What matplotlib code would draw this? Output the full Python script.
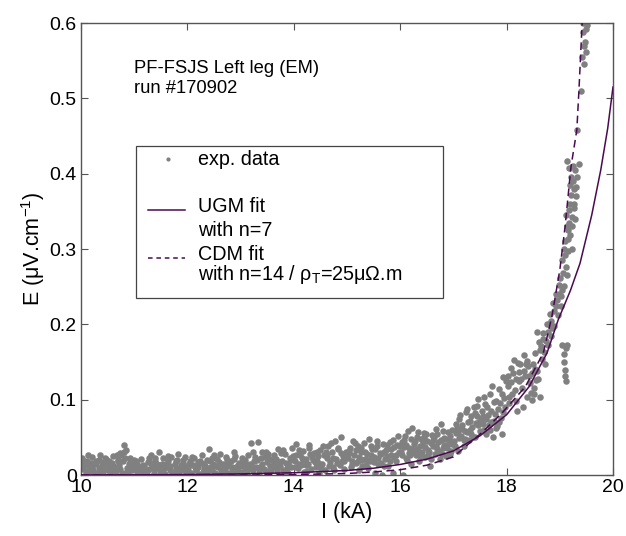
import matplotlib
matplotlib.use("Agg")
import matplotlib.pyplot as plt
from matplotlib.lines import Line2D
from matplotlib.patches import Rectangle

plt.rcParams['font.family'] = ['Liberation Sans', 'DejaVu Sans']
plt.rcParams['mathtext.fontset'] = 'custom'
plt.rcParams['mathtext.rm'] = 'Liberation Sans'
plt.rcParams['mathtext.it'] = 'Liberation Sans:italic'

exp_I = [
    10.02, 10.04, 10.07, 10.09, 10.12, 10.15, 10.17, 10.2, 10.23, 10.26, 10.28, 10.31, 10.34, 10.36, 10.39, 10.42, 10.44, 10.47, 10.5,
    10.52, 10.55, 10.58, 10.6, 10.63, 10.66, 10.69, 10.71, 10.74, 10.77, 10.79, 10.81, 10.84, 10.87, 10.9, 10.92, 10.95, 10.98,
    10.03, 10.11, 10.19, 10.25, 10.33, 10.41, 10.49, 10.56, 10.62, 10.7, 10.76, 10.83, 10.88, 10.96,
    10.06, 10.13, 10.21, 10.29, 10.37, 10.46, 10.53, 10.61, 10.68, 10.73, 10.8, 10.86, 10.93, 10.99,
    11.02, 11.05, 11.08, 11.1, 11.13, 11.16, 11.19, 11.22, 11.25, 11.28, 11.31, 11.34, 11.37, 11.4, 11.43, 11.46, 11.49,
    11.52, 11.55, 11.58, 11.61, 11.64, 11.67, 11.7, 11.73, 11.76, 11.79, 11.82, 11.85, 11.88, 11.91, 11.94, 11.97,
    11.04, 11.12, 11.2, 11.27, 11.35, 11.42, 11.5, 11.57, 11.63, 11.71, 11.78, 11.84, 11.92, 11.98,
    11.03, 11.09, 11.17, 11.24, 11.32, 11.39, 11.47, 11.54, 11.6, 11.68, 11.75, 11.81, 11.89, 11.95,
    12.01, 12.04, 12.07, 12.1, 12.13, 12.16, 12.19, 12.22, 12.25, 12.28, 12.31, 12.34, 12.37, 12.4, 12.43, 12.46, 12.49,
    12.52, 12.55, 12.58, 12.61, 12.64, 12.67, 12.7, 12.73, 12.76, 12.79, 12.82, 12.85, 12.88, 12.91, 12.94, 12.97,
    12.05, 12.14, 12.2, 12.29, 12.36, 12.45, 12.5, 12.59, 12.66, 12.74, 12.8, 12.87, 12.95,
    12.03, 12.09, 12.17, 12.24, 12.32, 12.39, 12.47, 12.54, 12.6, 12.68, 12.75, 12.83, 12.9, 12.96,
    13.02, 13.05, 13.08, 13.11, 13.14, 13.17, 13.2, 13.23, 13.26, 13.29, 13.32, 13.35, 13.38, 13.41, 13.44, 13.47, 13.5,
    13.53, 13.56, 13.59, 13.62, 13.65, 13.68, 13.71, 13.74, 13.77, 13.8, 13.83, 13.86, 13.89, 13.92, 13.95, 13.98,
    13.04, 13.12, 13.19, 13.27, 13.34, 13.4, 13.48, 13.55, 13.61, 13.69, 13.76, 13.84, 13.9, 13.97,
    13.03, 13.09, 13.16, 13.24, 13.31, 13.37, 13.45, 13.52, 13.58, 13.66, 13.73, 13.79, 13.87, 13.94,
    14.02, 14.05, 14.08, 14.11, 14.14, 14.17, 14.2, 14.23, 14.26, 14.29, 14.32, 14.35, 14.38, 14.41, 14.44, 14.47, 14.5,
    14.53, 14.56, 14.59, 14.62, 14.65, 14.68, 14.71, 14.74, 14.77, 14.8, 14.83, 14.86, 14.89, 14.92, 14.95, 14.98,
    14.04, 14.1, 14.18, 14.25, 14.31, 14.39, 14.46, 14.52, 14.6, 14.67, 14.73, 14.81, 14.88, 14.94,
    14.03, 14.09, 14.16, 14.22, 14.28, 14.36, 14.43, 14.49, 14.55, 14.63, 14.7, 14.76, 14.84, 14.9, 14.97,
    15.02, 15.05, 15.08, 15.11, 15.14, 15.17, 15.2, 15.23, 15.26, 15.29, 15.32, 15.35, 15.38, 15.41, 15.44, 15.47, 15.5,
    15.53, 15.56, 15.59, 15.62, 15.65, 15.68, 15.71, 15.74, 15.77, 15.8, 15.83, 15.86, 15.89, 15.92, 15.95, 15.98,
    15.04, 15.1, 15.16, 15.22, 15.28, 15.34, 15.4, 15.46, 15.52, 15.58, 15.64, 15.7, 15.76, 15.82, 15.88, 15.94,
    15.03, 15.09, 15.15, 15.21, 15.27, 15.33, 15.39, 15.45, 15.51, 15.57, 15.63, 15.69, 15.75, 15.81, 15.87, 15.93, 15.99,
    16.02, 16.05, 16.08, 16.11, 16.14, 16.17, 16.2, 16.23, 16.26, 16.29, 16.32, 16.35, 16.38, 16.41, 16.44, 16.47, 16.5,
    16.53, 16.56, 16.59, 16.62, 16.65, 16.68, 16.71, 16.74, 16.77, 16.8, 16.83, 16.86, 16.89, 16.92, 16.95, 16.98,
    16.04, 16.1, 16.16, 16.22, 16.28, 16.34, 16.4, 16.46, 16.52, 16.58, 16.64, 16.7, 16.76, 16.82, 16.88, 16.94,
    16.07, 16.19, 16.31, 16.43, 16.55, 16.67, 16.79, 16.91,
    16.03, 16.09, 16.13, 16.21, 16.25, 16.33, 16.37, 16.45, 16.49, 16.57, 16.61, 16.69, 16.73, 16.81, 16.85, 16.93, 16.97,
    17.02, 17.05, 17.08, 17.11, 17.14, 17.17, 17.2, 17.23, 17.26, 17.29, 17.32, 17.35, 17.38, 17.41, 17.44, 17.47, 17.5,
    17.53, 17.56, 17.59, 17.62, 17.65, 17.68, 17.71, 17.74, 17.77, 17.8, 17.83, 17.86, 17.89, 17.92, 17.95, 17.98,
    17.04, 17.1, 17.16, 17.22, 17.28, 17.34, 17.4, 17.46, 17.52, 17.58, 17.64, 17.7, 17.76, 17.82, 17.88, 17.94,
    17.07, 17.19, 17.31, 17.43, 17.55, 17.67, 17.79, 17.91,
    17.03, 17.09, 17.13, 17.21, 17.25, 17.33, 17.37, 17.45, 17.49, 17.57, 17.61, 17.69, 17.73, 17.81, 17.85, 17.93, 17.97,
    18.02, 18.05, 18.08, 18.11, 18.14, 18.17, 18.2, 18.23, 18.26, 18.29, 18.32, 18.35, 18.38, 18.41, 18.44, 18.47,
    18.03, 18.09, 18.15, 18.21, 18.27, 18.33, 18.39, 18.45, 18.49,
    18.04, 18.12, 18.18, 18.24, 18.3, 18.36, 18.42, 18.48, 18.52, 18.56, 18.58, 18.62, 18.68, 18.74, 18.8, 18.86, 18.92, 18.98,
    18.51, 18.54, 18.57, 18.6, 18.63, 18.66, 18.69, 18.72, 18.75, 18.78, 18.81, 18.84, 18.87, 18.9, 18.93, 18.96, 18.99,
    18.53, 18.59, 18.65, 18.71, 18.77, 18.83, 18.89, 18.95,
    19.01, 19.03, 19.05, 19.07, 19.09, 19.11, 19.13, 19.15, 19.17, 19.19, 19.21, 19.23, 19.25, 19.27, 19.29, 19.31, 19.33,
    19.02, 19.06, 19.1, 19.14, 19.18, 19.22, 19.26, 19.3, 19.2, 19.24, 19.16, 19.12,
    19.04, 19.08, 19.15, 19.19, 19.23, 19.27, 19.28, 19.21,
    19.05, 19.07, 19.08, 19.09, 19.1, 19.11, 19.12, 19.13,
    19.14, 19.17, 19.36, 19.33, 19.39, 19.42, 19.45, 19.44, 19.47, 19.49, 19.5, 19.52, 19.46, 19.43,
]
exp_E = [
    0.022, 0.008, 0.015, 0.003, 0.018, 0.011, 0.001, 0.024, 0.006, 0.014, 0.019, 0.002, 0.009, 0.026, 0.013, 0.004, 0.017, 0.021, 0.007,
    0.012, 0.001, 0.016, 0.025, 0.01, 0.005, 0.02, 0.013, 0.029, 0.003, 0.018, 0.04, 0.033, 0.009, 0.015, 0.022, 0.006, 0.011,
    0.012, 0.005, 0.016, 0.0, 0.02, 0.01, 0.014, 0.008, 0.003, 0.018, 0.027, 0.022, 0.002, 0.013,
    0.019, 0.026, 0.009, 0.016, 0.004, 0.023, 0.018, 0.012, 0.027, 0.008, 0.03, 0.005, 0.017, 0.02,
    0.006, 0.015, 0.002, 0.01, 0.021, 0.004, 0.012, 0.0, 0.017, 0.008, 0.026, 0.013, 0.003, 0.019, 0.009, 0.03, 0.005,
    0.014, 0.022, 0.001, 0.011, 0.018, 0.007, 0.024, 0.002, 0.015, 0.009, 0.028, 0.004, 0.013, 0.02, 0.006, 0.011,
    0.011, 0.0, 0.007, 0.023, 0.009, 0.014, 0.002, 0.01, 0.025, 0.004, 0.019, 0.008, 0.016, 0.001,
    0.018, 0.008, 0.013, 0.004, 0.016, 0.022, 0.011, 0.006, 0.015, 0.012, 0.002, 0.02, 0.009, 0.024,
    0.009, 0.018, 0.003, 0.013, 0.022, 0.006, 0.011, 0.001, 0.016, 0.027, 0.008, 0.012, 0.004, 0.035, 0.019, 0.007, 0.014,
    0.002, 0.021, 0.01, 0.028, 0.005, 0.015, 0.009, 0.024, 0.002, 0.012, 0.018, 0.006, 0.03, 0.011, 0.003, 0.016,
    0.002, 0.01, 0.017, 0.004, 0.02, 0.011, 0.026, 0.0, 0.008, 0.014, 0.003, 0.021, 0.007,
    0.014, 0.024, 0.008, 0.019, 0.015, 0.009, 0.022, 0.012, 0.017, 0.004, 0.02, 0.01, 0.025, 0.013,
    0.012, 0.004, 0.02, 0.009, 0.027, 0.015, 0.043, 0.006, 0.018, 0.011, 0.044, 0.002, 0.023, 0.014, 0.008, 0.031, 0.017,
    0.003, 0.021, 0.01, 0.026, 0.015, 0.005, 0.034, 0.012, 0.019, 0.007, 0.028, 0.016, 0.002, 0.022, 0.011, 0.025,
    0.017, 0.001, 0.013, 0.024, 0.008, 0.03, 0.005, 0.012, 0.019, 0.009, 0.029, 0.004, 0.014, 0.036,
    0.022, 0.016, 0.008, 0.03, 0.02, 0.01, 0.024, 0.028, 0.006, 0.021, 0.017, 0.033, 0.009, 0.02,
    0.018, 0.041, 0.009, 0.026, 0.013, 0.032, 0.004, 0.021, 0.015, 0.036, 0.008, 0.024, 0.029, 0.011, 0.019, 0.002, 0.033,
    0.014, 0.027, 0.006, 0.022, 0.038, 0.017, 0.03, 0.01, 0.045, 0.021, 0.034, 0.013, 0.05, 0.025, 0.008, 0.031,
    0.027, 0.014, 0.02, 0.005, 0.028, 0.017, 0.025, 0.009, 0.031, 0.012, 0.023, 0.016, 0.029, 0.019,
    0.01, 0.033, 0.022, 0.013, 0.04, 0.02, 0.03, 0.015, 0.038, 0.026, 0.042, 0.006, 0.036, 0.018, 0.024,
    0.022, 0.036, 0.011, 0.045, 0.027, 0.016, 0.039, 0.007, 0.031, 0.02, 0.042, 0.013, 0.028, 0.048, 0.018, 0.034, 0.024,
    0.003, 0.038, 0.015, 0.029, 0.0, 0.041, 0.021, 0.033, 0.012, 0.044, 0.026, 0.002, 0.037, 0.019, 0.052, 0.03,
    0.029, 0.019, 0.033, 0.024, 0.012, 0.03, 0.02, 0.026, 0.035, 0.022, 0.016, 0.03, 0.025, 0.034, 0.024, 0.04,
    0.032, 0.015, 0.042, 0.018, 0.036, 0.021, 0.009, 0.039, 0.017, 0.045, 0.028, 0.012, 0.04, 0.019, 0.047, 0.027, 0.038,
    0.031, 0.0, 0.047, 0.022, 0.058, 0.036, 0.015, 0.062, 0.041, 0.027, 0.051, 0.018, 0.039, 0.03, 0.056, 0.024, 0.045,
    0.033, 0.012, 0.053, 0.038, 0.028, 0.061, 0.044, 0.021, 0.068, 0.036, 0.049, 0.025, 0.057, 0.042, 0.032, 0.06,
    0.026, 0.04, 0.029, 0.035, 0.045, 0.031, 0.048, 0.037, 0.026, 0.043, 0.05, 0.034, 0.046, 0.04, 0.036, 0.052,
    0.037, 0.026, 0.034, 0.044, 0.03, 0.039, 0.028, 0.047,
    0.044, 0.052, 0.02, 0.048, 0.03, 0.057, 0.025, 0.05, 0.055, 0.021, 0.046, 0.055, 0.03, 0.058, 0.048, 0.028, 0.041,
    0.045, 0.068, 0.032, 0.075, 0.052, 0.061, 0.038, 0.083, 0.057, 0.046, 0.072, 0.064, 0.09, 0.05, 0.078, 0.101, 0.059,
    0.085, 0.068, 0.094, 0.055, 0.08, 0.108, 0.071, 0.05, 0.097, 0.063, 0.088, 0.114, 0.076, 0.054, 0.102, 0.125,
    0.056, 0.049, 0.066, 0.058, 0.07, 0.055, 0.082, 0.066, 0.074, 0.06, 0.09, 0.085, 0.072, 0.065, 0.095, 0.083,
    0.062, 0.047, 0.06, 0.069, 0.078, 0.067, 0.081, 0.108,
    0.038, 0.058, 0.08, 0.048, 0.088, 0.078, 0.05, 0.092, 0.071, 0.104, 0.075, 0.06, 0.118, 0.098, 0.07, 0.13, 0.09,
    0.118, 0.095, 0.142, 0.107, 0.153, 0.128, 0.085, 0.137, 0.148, 0.116, 0.159, 0.131, 0.103, 0.145, 0.122, 0.136,
    0.132, 0.124, 0.113, 0.149, 0.127, 0.138, 0.151, 0.109, 0.147,
    0.104, 0.135, 0.098, 0.125, 0.09, 0.147, 0.131, 0.1, 0.108, 0.126, 0.19, 0.166, 0.18, 0.178, 0.2, 0.195, 0.225, 0.24,
    0.115, 0.162, 0.138, 0.176, 0.104, 0.154, 0.188, 0.147, 0.2, 0.172, 0.214, 0.185, 0.228, 0.198, 0.24, 0.213, 0.252,
    0.141, 0.128, 0.171, 0.163, 0.19, 0.205, 0.218, 0.232,
    0.262, 0.238, 0.285, 0.251, 0.31, 0.276, 0.33, 0.298, 0.352, 0.318, 0.372, 0.342, 0.39, 0.36, 0.405, 0.382, 0.395,
    0.224, 0.268, 0.292, 0.265, 0.335, 0.3, 0.355, 0.37, 0.385, 0.41, 0.313, 0.345,
    0.245, 0.3, 0.325, 0.36, 0.33, 0.38, 0.34, 0.395,
    0.172, 0.16, 0.15, 0.14, 0.132, 0.125, 0.168, 0.172,
    0.417, 0.407, 0.413, 0.458, 0.51, 0.555, 0.57, 0.588, 0.575, 0.562, 0.592, 0.598, 0.546, 0.6,
]

# UGM fit (n=7)
ugm_I = [10, 11, 12, 13, 14, 15, 15.5, 16, 16.5, 17, 17.5, 18, 18.42, 18.76, 18.97, 19.2, 19.38, 19.6, 19.77, 19.9, 20]
ugm_E = [0.0, 0.0002, 0.0006, 0.0015, 0.003, 0.006, 0.009, 0.014, 0.021, 0.032, 0.052, 0.080, 0.117, 0.162, 0.206, 0.245,
         0.281, 0.345, 0.405, 0.46, 0.515]

# CDM fit (n=14, rho_T=25 uOhm.m)
cdm_I = [10, 13, 14, 15, 15.5, 16, 16.5, 17, 17.53, 17.91, 18.35, 18.69, 18.85, 19.0, 19.1, 19.21, 19.32, 19.36, 19.42]
cdm_E = [0.0, 0.0, 0.0005, 0.002, 0.004, 0.007, 0.013, 0.024, 0.056, 0.082, 0.117, 0.162, 0.21, 0.272, 0.33, 0.409,
         0.458, 0.511, 0.6]

x_ticks = [10, 12, 14, 16, 18, 20]
y_ticks = [0, 0.1, 0.2, 0.3, 0.4, 0.5, 0.6]
y_tick_labels = ['0', '0.1', '0.2', '0.3', '0.4', '0.5', '0.6']

fit_color = '#4a0a50'
dot_color = '#808080'
frame_color = '#555555'

fig = plt.figure(figsize=(6.26, 5.36), dpi=100)
ax = fig.add_axes([81 / 626, 1 - 475 / 536, 532 / 626, 452 / 536])

ax.scatter(exp_I, exp_E, s=22, color=dot_color, linewidths=0, zorder=2)
ax.plot(ugm_I, ugm_E, color=fit_color, lw=1.1, zorder=3)
ax.plot(cdm_I, cdm_E, color=fit_color, lw=1.1, ls=(0, (5, 3)), zorder=3)

ax.set_xlim(10, 20)
ax.set_ylim(0, 0.6)
ax.set_xticks(x_ticks)
ax.set_yticks(y_ticks)
ax.set_yticklabels(y_tick_labels)
ax.tick_params(direction='in', top=True, right=True, length=5, width=0.8,
               color=frame_color, labelsize=14, pad=3)
for sp in ax.spines.values():
    sp.set_color(frame_color)
    sp.set_linewidth(1.0)

ax.set_xlabel('I (kA)', fontsize=15.5, labelpad=4)
ax.set_ylabel('E (μV.cm$^{-1}$)', fontsize=15.5, labelpad=2)

ax.text(0.1, 0.900, 'PF-FSJS Left leg (EM)', transform=ax.transAxes, fontsize=13.2, va='center')
ax.text(0.1, 0.856, 'run #170902', transform=ax.transAxes, fontsize=13.2, va='center')

# hand-drawn legend box, MATLAB style
ax.add_patch(Rectangle((0.103, 0.392), 0.577, 0.336, transform=ax.transAxes,
                       facecolor='white', edgecolor='#444444', lw=0.9, zorder=5))
ax.add_line(Line2D([0.164], [0.699], transform=ax.transAxes, marker='o', ms=3,
                   color=dot_color, mec='none', ls='none', zorder=6))
ax.add_line(Line2D([0.126, 0.195], [0.586, 0.586], transform=ax.transAxes,
                   color=fit_color, lw=1.1, zorder=6))
ax.add_line(Line2D([0.126, 0.195], [0.480, 0.480], transform=ax.transAxes,
                   color=fit_color, lw=1.1, ls=(0, (3, 2.5)), zorder=6))
legend_lines = [(0.699, 'exp. data'), (0.593, 'UGM fit'), (0.542, 'with n=7'),
                (0.487, 'CDM fit'), (0.443, 'with n=14 / ρ$_\\mathrm{T}$=25μΩ.m')]
for yy, txt in legend_lines:
    ax.text(0.22, yy, txt, transform=ax.transAxes, fontsize=14.2, va='center', zorder=7)

fig.savefig('out.png', dpi=100)
